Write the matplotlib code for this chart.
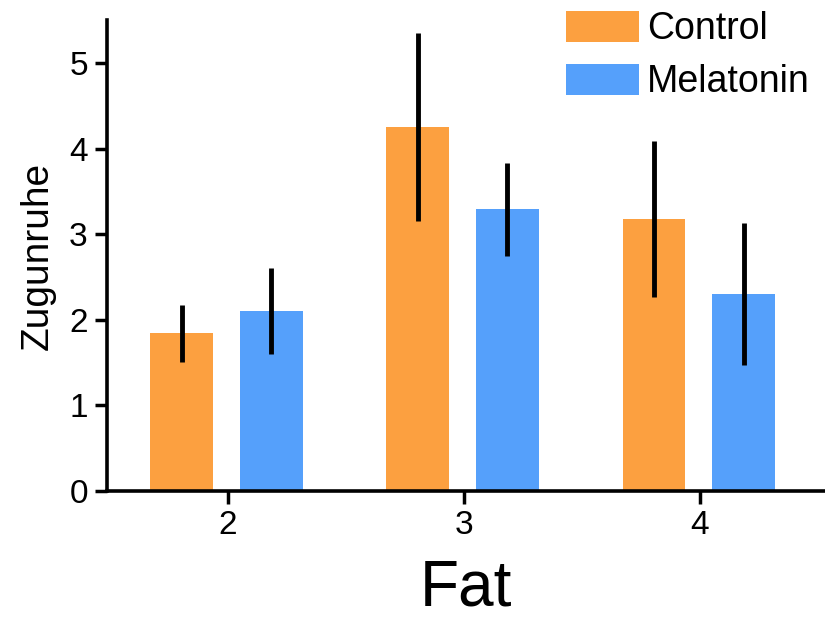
import numpy as np
import matplotlib
matplotlib.use("Agg")
import matplotlib.pyplot as plt

plt.rcParams["font.family"] = ["Liberation Sans", "DejaVu Sans"]

# data
fat = [2, 3, 4]
control = [1.84, 4.25, 3.18]
control_err = [0.33, 1.10, 0.91]
melatonin = [2.10, 3.29, 2.30]
melatonin_err = [0.50, 0.54, 0.83]

fig = plt.figure(figsize=(8.25, 6.22), dpi=100)
ax = fig.add_axes([0.13, 0.2106, 0.87, 0.757])

x = np.array(fat, dtype=float)
off = 0.19
w = 0.265
ax.bar(x - off - 0.005, control, w, color="#FCA040", label="Control")
ax.bar(x + off - 0.005, melatonin, w, color="#55A0FB", label="Melatonin")
ax.errorbar(x - off - 0.005, control, yerr=control_err, fmt="none", ecolor="black",
            elinewidth=3.5, capsize=0)
ax.errorbar(x + off - 0.005, melatonin, yerr=melatonin_err, fmt="none", ecolor="black",
            elinewidth=3.5, capsize=0)

ax.set_xlim(1.49, 4.53)
ax.set_ylim(0, 5.5)
ax.set_xticks(fat)
ax.set_yticks([0, 1, 2, 3, 4, 5])
ax.tick_params(labelsize=24, width=2.5, length=9, direction="out", pad=5)

for s in ["top", "right"]:
    ax.spines[s].set_visible(False)
for s in ["left", "bottom"]:
    ax.spines[s].set_linewidth(2.6)

ax.set_ylabel("Zugunruhe", fontsize=28, labelpad=10)
ax.set_xlabel("Fat", fontsize=46, labelpad=12)

fig.legend(loc="upper left", bbox_to_anchor=(0.686, 0.983), frameon=False,
           fontsize=27, handlelength=1.95, handleheight=0.9,
           handletextpad=0.22, labelspacing=0.45, borderpad=0, borderaxespad=0)

plt.savefig("out.png", dpi=100)
